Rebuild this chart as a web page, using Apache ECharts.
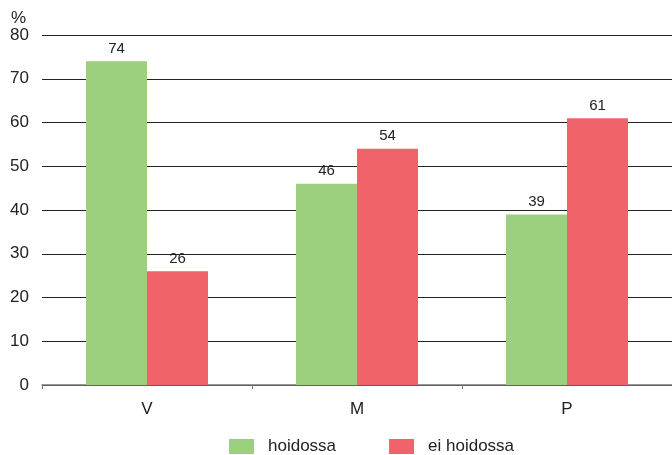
<!DOCTYPE html>
<html><head><meta charset="utf-8">
<script src="https://cdn.jsdelivr.net/npm/echarts@6/dist/echarts.min.js"></script>
<style>html,body{margin:0;padding:0;background:#fff}#c{width:672px;height:455px}</style>
</head><body><div id="c"></div>
<script>
var categories = ['V', 'M', 'P'];
var seriesNames = ['hoidossa', 'ei hoidossa'];
var hoidossa = [74, 46, 39];
var eiHoidossa = [26, 54, 61];
var chart = echarts.init(document.getElementById('c'));
var font = 'Liberation Sans, Arial, sans-serif';
chart.setOption({
  animation: false,
  textStyle: {fontFamily: font},
  grid: {left: 42, right: 0, top: 35, bottom: 70, containLabel: false},
  legend: {
    top: 433, left: 224, itemWidth: 25, itemHeight: 15, itemGap: 53, icon: 'rect',
    textStyle: {fontSize: 17, color: '#222', fontFamily: font, padding: [0, 0, 0, 9]},
    data: seriesNames
  },
  xAxis: {
    type: 'category', data: categories,
    axisLine: {lineStyle: {color: '#777', width: 1.5}},
    axisTick: {show: true, length: 4, lineStyle: {color: '#777'}},
    axisLabel: {fontSize: 17, color: '#222', margin: 16, fontFamily: font}
  },
  yAxis: {
    type: 'value', min: 0, max: 80, interval: 10,
    name: '%', nameGap: 8, nameTextStyle: {fontSize: 17, color: '#222', align: 'right', padding: [0, 16, 0, 0], fontFamily: font},
    axisLine: {show: false}, axisTick: {show: false},
    axisLabel: {fontSize: 17, color: '#222', margin: 13, fontFamily: font},
    splitLine: {lineStyle: {color: '#222', width: 1}}
  },
  series: [
    {name: seriesNames[0], type: 'bar', data: hoidossa, barWidth: 61, barGap: '0%',
     itemStyle: {color: '#9ccf7e'},
     label: {show: true, position: 'top', fontSize: 15, color: '#222', distance: 5, fontFamily: font}},
    {name: seriesNames[1], type: 'bar', data: eiHoidossa, barWidth: 61,
     itemStyle: {color: '#f0636b'},
     label: {show: true, position: 'top', fontSize: 15, color: '#222', distance: 5, fontFamily: font}}
  ]
});
</script></body></html>
